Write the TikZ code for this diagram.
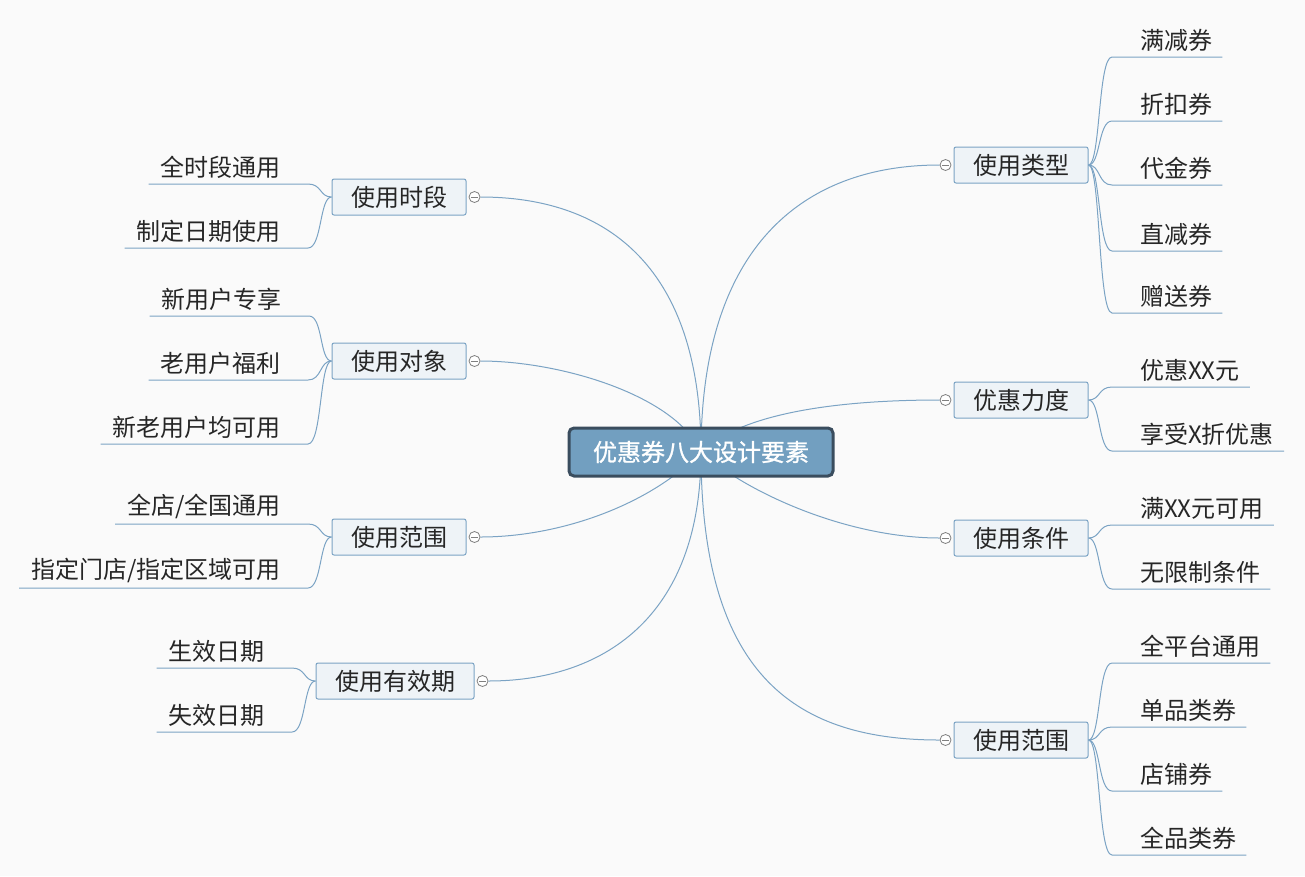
\documentclass[tikz,border=0pt]{standalone}
\usepackage{fontspec}
\setmainfont{Noto Sans CJK SC}
\newfontfamily\rootfont{Noto Sans CJK SC}[FakeBold=1]
\usepackage{tikz}
\usetikzlibrary{backgrounds}
\definecolor{linec}{HTML}{7BA3C4}
\definecolor{boxl}{HTML}{EEF3F7}
\definecolor{rootc}{HTML}{729FC0}
\definecolor{rootd}{HTML}{3A4D5E}
\definecolor{bgc}{HTML}{FAFAFA}
\definecolor{txt}{HTML}{262626}
\tikzset{
  ln/.style={linec,line width=1pt},
  br/.style={draw=linec,line width=1pt,rounded corners=2pt,fill=boxl,minimum height=36pt,inner xsep=19pt,font=\fontsize{24}{28}\selectfont,text=txt},
  lf/.style={inner xsep=0pt,inner ysep=5pt,font=\fontsize{24}{28}\selectfont,text=txt},
  kn/.style={circle,draw=gray,line width=0.8pt,fill=white,minimum size=11pt,inner sep=0pt,
    path picture={\draw[gray,line width=0.8pt] ([xshift=-3.5pt]path picture bounding box.center) -- ([xshift=3.5pt]path picture bounding box.center);}},
  root/.style={draw=rootd,line width=3pt,rounded corners=5pt,fill=rootc,text=white,minimum height=48pt,minimum width=264pt,font=\rootfont\fontsize{24}{28}\selectfont}
}

\begin{document}
\begin{tikzpicture}[x=1pt,y=-1pt]
\useasboundingbox (0,0) rectangle (1305,876);
% root and main topics
\node[root] (root) at (701,452) {优惠券八大设计要素};
\node[br] (b1) at (1021,165) {使用类型};
\node[br] (b2) at (1021,400) {优惠力度};
\node[br] (b3) at (1021,538) {使用条件};
\node[br] (b4) at (1021,740) {使用范围};
\node[br] (b5) at (399,197) {使用时段};
\node[br] (b6) at (399,361) {使用对象};
\node[br] (b7) at (399,537) {使用范围};
\node[br] (b8) at (395,681) {使用有效期};
\foreach \i in {1,...,4}
  \node[kn] (k\i) at ([xshift=-8pt]b\i.west) {};
\foreach \i in {5,...,8}
  \node[kn] (k\i) at ([xshift=8pt]b\i.east) {};
% right leaves
\foreach \t/\y/\p [count=\i] in {满减券/57/1,折扣券/121/1,代金券/185/1,直减券/251/1,赠送券/313/1,
    优惠XX元/387/2,享受X折优惠/451/2,满XX元可用/525/3,无限制条件/589/3,
    全平台通用/663/4,单品类券/727/4,店铺券/791/4,全品类券/855/4}{
  \node[lf,anchor=south west] (r\i) at (1140,\y) {\t};
  \draw[ln] (b\p.east) .. controls +(12,0) and +(-14,0) .. ([xshift=-28pt]r\i.south west) -- ([xshift=10pt]r\i.south east);
}
% left leaves
\foreach \t/\y/\p/\x [count=\i] in {全时段通用/184/5/281,制定日期使用/248/5/281,
    新用户专享/316/6/282,老用户福利/380/6/281,新老用户均可用/444/6/281,
    {全店/全国通用}/524/7/281,{指定门店/指定区域可用}/588/7/281,
    生效日期/668/8/265,失效日期/732/8/265}{
  \node[lf,anchor=south east] (l\i) at (\x,\y) {\t};
  \draw[ln] (b\p.west) .. controls +(-12,0) and +(14,0) .. ([xshift=27pt]l\i.south east) -- ([xshift=-12pt]l\i.south west);
}
\begin{scope}[on background layer]
\fill[bgc] (0,0) rectangle (1305,876);
\draw[ln] (root.center) .. controls (701,250) and (800,165) .. (k1.west);
\draw[ln] (root.center) .. controls (745,410) and (850,400) .. (k2.west);
\draw[ln] (root.center) .. controls (750,495) and (850,538) .. (k3.west);
\draw[ln] (root.center) .. controls (701,680) and (800,740) .. (k4.west);
\draw[ln] (root.center) .. controls (701,260) and (600,197) .. (k5.east);
\draw[ln] (root.center) .. controls (675,395) and (560,361) .. (k6.east);
\draw[ln] (root.center) .. controls (650,505) and (560,537) .. (k7.east);
\draw[ln] (root.center) .. controls (701,620) and (600,681) .. (k8.east);
\end{scope}
\end{tikzpicture}
\end{document}
